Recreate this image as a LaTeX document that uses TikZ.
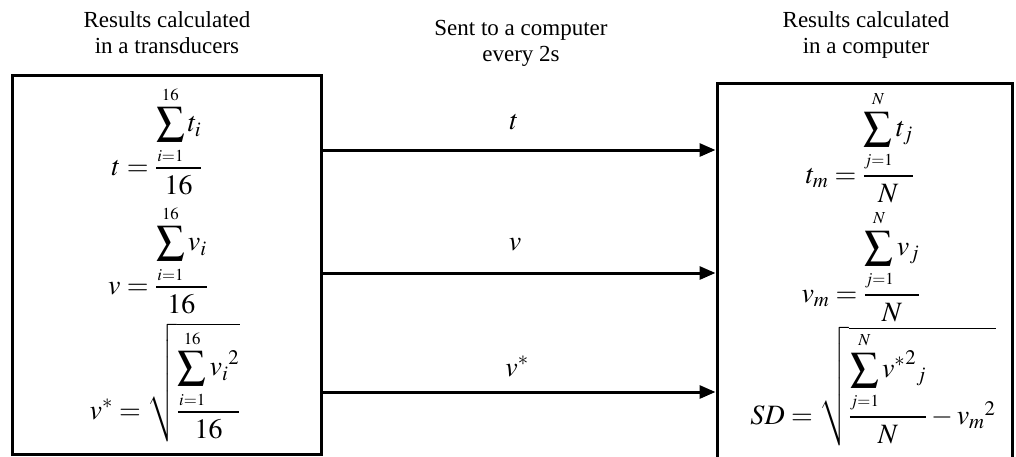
\documentclass[tikz,border=0pt]{standalone}
\usepackage{mathptmx}
\usepackage{amsmath}
\usepackage{fontspec}
\setmainfont{Liberation Serif}
\usetikzlibrary{arrows.meta}
\tikzset{
  title/.style={align=center,inner sep=0pt,anchor=north,font=\fontsize{23}{26.5}\selectfont},
  box/.style={draw,line width=3pt,inner sep=0pt},
  formula/.style={inner sep=0pt,anchor=base,font=\fontsize{28}{33}\selectfont},
  lab/.style={inner sep=0pt,anchor=base,font=\fontsize{28}{33}\selectfont},
  arr/.style={line width=3pt,-{Triangle[length=16pt,width=13pt]}}
}
\newcommand{\dsum}[2]{\displaystyle\sum_{\raisebox{-2pt}{$\scriptscriptstyle #1$}}^{\raisebox{2pt}{$\scriptscriptstyle #2$}}}
\begin{document}
\begin{tikzpicture}[x=1pt,y=-1pt]
\useasboundingbox (0,0) rectangle (1016,456);
% boxes
\node[box,minimum width=309pt,minimum height=379pt] (L) at (166.5,265) {};
\node[box,minimum width=295pt,minimum height=377pt] (R) at (864.5,271.5) {};
% titles
\node[title] (T1) at (167,11) {Results calculated\\in a transducers};
\node[title] (T2) at (521,20) {Sent to a computer\\every 2s};
\node[title] (T3) at (866,11) {Results calculated\\in a computer};
% arrow levels
\coordinate (y1) at (0,150);
\coordinate (y2) at (0,273);
\coordinate (y3) at (0,392);
\draw[arr] (L.east |- y1) -- (R.west |- y1);
\draw[arr] (L.east |- y2) -- (R.west |- y2);
\draw[arr] (L.east |- y3) -- (R.west |- y3);
% arrow labels
\node[lab] (la1) at (514,129) {$t$};
\node[lab] (la2) at (515,250) {$v$};
\node[lab] (la3) at (517,376) {$v^{*}$};
% left formulas
\node[formula] (f1) at (157,175) {$t = \dfrac{\dsum{i=1}{16} t_i}{16}$};
\node[formula] (f2) at (158,294) {$v = \dfrac{\dsum{i=1}{16} v_i}{16}$};
\node[formula] (f3) at (165,419) {$v^{*} = \sqrt{\dfrac{\dsum{i=1}{16} {v_i}^{2}}{16}}$};
% right formulas
\node[formula] (g1) at (860,183) {$t_m = \dfrac{\dsum{j=1}{N} t_j}{N}$};
\node[formula] (g2) at (861,302) {$v_m = \dfrac{\dsum{j=1}{N} v_j}{N}$};
\node[formula] (g3) at (873,424) {$SD = \sqrt{\dfrac{\dsum{j=1}{N} {v^{*}}^{2}{}_{j}}{N} - {v_m}^{2}}$};
\end{tikzpicture}
\end{document}
